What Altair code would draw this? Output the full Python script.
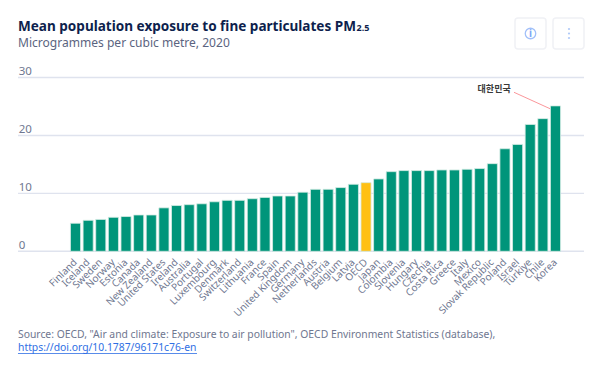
import altair as alt
import pandas as pd

countries = ["Finland","Iceland","Sweden","Norway","Estonia","Canada","New Zealand","United States","Ireland","Australia","Portugal","Luxembourg","Denmark","Switzerland","Lithuania","France","Spain","United Kingdom","Germany","Netherlands","Austria","Belgium","Latvia","OECD","Japan","Colombia","Slovenia","Hungary","Czechia","Costa Rica","Greece","Italy","Mexico","Slovak Republic","Poland","Israel","Türkiye","Chile","Korea"]
values = [4.84,5.35,5.5,5.87,6.0,6.27,6.27,7.5,7.9,8.05,8.2,8.55,8.8,8.8,9.08,9.3,9.55,9.55,10.2,10.7,10.7,11.0,11.57,11.85,12.49,13.75,13.93,13.93,13.93,14.04,14.04,14.16,14.28,15.13,17.7,18.45,21.9,22.9,25.1]
grid_values = [0,10,20,30]

OX, OY = 69.2, 77.5  # plot origin on the page
def px(v): return v - OX
def py(v): return v - OY

df = pd.DataFrame({"country": countries, "value": values})
df["group"] = ["OECD" if c == "OECD" else "Other" for c in countries]
grid = pd.DataFrame({"g": grid_values})
one = pd.DataFrame({"a": [0]})

yscale = alt.Scale(domain=[0, 30], range=[173.8, 0], nice=False)

rules = alt.Chart(grid).mark_rule(color="#dfe3ee", strokeWidth=1.4).encode(
    x=alt.value(px(18)), x2=alt.value(px(584)),
    y=alt.Y("g:Q", scale=yscale, title=None,
            axis=alt.Axis(values=grid_values, grid=False, domain=False, ticks=False, tickSize=0,
                          labelAlign="left", labelBaseline="bottom", labelPadding=51, labelOffset=-1,
                          labelFont="Noto Sans", labelFontSize=11.5, labelColor="#6f7790")),
)

bars = alt.Chart(df).mark_bar(stroke="#d5ece5", strokeWidth=0.8).encode(
    x=alt.X("country:N", sort=countries, title=None,
            scale=alt.Scale(paddingInner=0.2, paddingOuter=0.1),
            axis=alt.Axis(labelAngle=-45, labelAlign="right", labelBaseline="middle", domain=False, ticks=False,
                          labelPadding=9, labelFont="Noto Sans", labelFontSize=10, labelColor="#6f7790",
                          labelOverlap=False, labelLimit=200)),
    y=alt.Y("value:Q", scale=yscale),
    color=alt.Color("group:N", legend=None,
                    scale=alt.Scale(domain=["Other","OECD"], range=["#00957a","#ffc013"])),
)

def rect(x0, x1, y0, y1):
    return alt.Chart(one).mark_rect(fill="white", stroke="#f0f1f5", strokeWidth=1.5, cornerRadius=3).encode(
        x=alt.value(px(x0)), x2=alt.value(px(x1)), y=alt.value(py(y0)), y2=alt.value(py(y1)))

def text(s, x, y, **kw):
    return alt.Chart(one).mark_text(**kw).encode(x=alt.value(px(x)), y=alt.value(py(y)), text=alt.value(s))

def dot(x, y, size, **kw):
    return alt.Chart(one).mark_point(**kw).encode(x=alt.value(px(x)), y=alt.value(py(y)), size=alt.value(size))

icons = [rect(515, 546, 18, 49), rect(553, 584, 18, 49),
         dot(530.5, 33.5, 110, filled=False, stroke="#7ba6f7", strokeWidth=1.3),
         text("i", 530.5, 33.7, font="Noto Sans", fontSize=10, fontWeight="bold", color="#7ba6f7", align="center", baseline="middle")]
icons += [dot(569, y, 5, filled=True, color="#8db3f5") for y in (29, 33.5, 38)]

callout = [
    alt.Chart(one).mark_rule(color="#f98a8f", strokeWidth=0.9).encode(
        x=alt.value(px(514)), x2=alt.value(px(550)), y=alt.value(py(92.3)), y2=alt.value(py(108.7))),
    text("대한민국", 510.7, 89.3, font="Noto Sans CJK KR", fontSize=9, fontWeight="bold", color="#3a3a3a", align="right", baseline="middle"),
]

titles = [
    text("Mean population exposure to fine particulates PM", 18, 31, font="Noto Sans", fontSize=13.55, fontWeight="bold", color="#0e1f4d", align="left", baseline="alphabetic"),
    text("2.5", 356.5, 31, font="Noto Sans", fontSize=9, fontWeight="bold", color="#0e1f4d", align="left", baseline="alphabetic"),
    text("Microgrammes per cubic metre, 2020", 18, 43, font="Noto Sans", fontSize=12.05, color="#5b6480", align="left", baseline="middle"),
]

foot_kw = dict(font="Noto Sans", fontSize=10.35, align="left", baseline="middle")
footer = [
    text('Source: OECD, "Air and climate: Exposure to air pollution", OECD Environment Statistics (database),', 18, 334.5, color="#6f7790", **foot_kw),
    text("https://doi.org/10.1787/96171c76-en", 18, 348, color="#2f6fe4", **foot_kw),
    alt.Chart(one).mark_rule(color="#2f6fe4", strokeWidth=0.8).encode(
        x=alt.value(px(18)), x2=alt.value(px(197)), y=alt.value(py(353.5)), y2=alt.value(py(353.5))),
]

chart = alt.layer(rules, bars, *icons, *callout, *titles, *footer).resolve_scale(y="shared").properties(
    width=492.6, height=173.8,
    background="white",
    autosize=alt.AutoSizeParams(type="none"),
    padding={"left": 61.2, "top": 69.5, "right": 30.2, "bottom": 107.7},
).configure_view(stroke=None)

chart.save("out.html", embed_options={"renderer": "svg", "actions": False})
